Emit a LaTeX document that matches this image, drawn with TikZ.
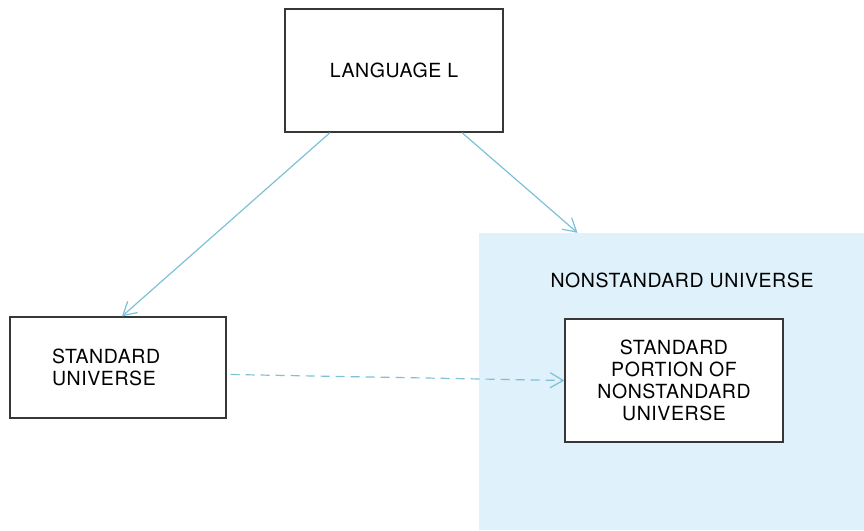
\documentclass[tikz,border=0pt]{standalone}
\usepackage{fontspec}
\setmainfont{TeX Gyre Heros}[LetterSpace=3]
\usepackage{tikz}
\usetikzlibrary{arrows.meta}
\usepackage{xcolor}
\definecolor{skyfill}{RGB}{223,241,250}
\definecolor{skyline}{RGB}{125,192,216}
\definecolor{boxline}{RGB}{55,55,55}
\tikzstyle{box} = [rectangle, 
minimum width=218pt, 
minimum height=123pt, 
text centered, 
draw=boxline, 
line width=1.3pt,
fill=white]
\tikzstyle{region} = [rectangle, 
minimum width=385pt, 
minimum height=297pt, 
inner sep=0pt,
fill=skyfill]
\tikzstyle{arrow} = [draw=skyline, line width=1.2pt, -{Straight Barb[length=13pt, width=15pt]}]

\begin{document}
\begin{tikzpicture}[x=1pt, y=-1pt, font=\fontsize{19.5}{22}\selectfont]
		\useasboundingbox (0,0) rectangle (864,530);
		
		\node (nsu) [region] at (671.5,381.5) {};
		\node (nsulabel) at (682,280) {NONSTANDARD UNIVERSE};
		
		\node (lang) [box] at (394,70.5) {LANGUAGE L};
		
		\node (std) [box, minimum width=216pt, minimum height=101pt, text width=132pt, inner xsep=42pt, align=left] at (118,367.5) {STANDARD\\UNIVERSE};
		
		\node (sub) [box, align=center] at (674,380.5) {STANDARD\\PORTION OF\\NONSTANDARD\\UNIVERSE};
		
		\draw [arrow] ([xshift=-64pt]lang.south) -- ([xshift=4pt]std.north);
		\draw [arrow] ([xshift=68pt]lang.south) -- ([xshift=-94pt]nsu.north);
		\draw [arrow, dashed, dash pattern=on 9pt off 6pt] ([xshift=4pt, yshift=-7pt]std.east) -- (sub.west);
		
	\end{tikzpicture}
\end{document}
